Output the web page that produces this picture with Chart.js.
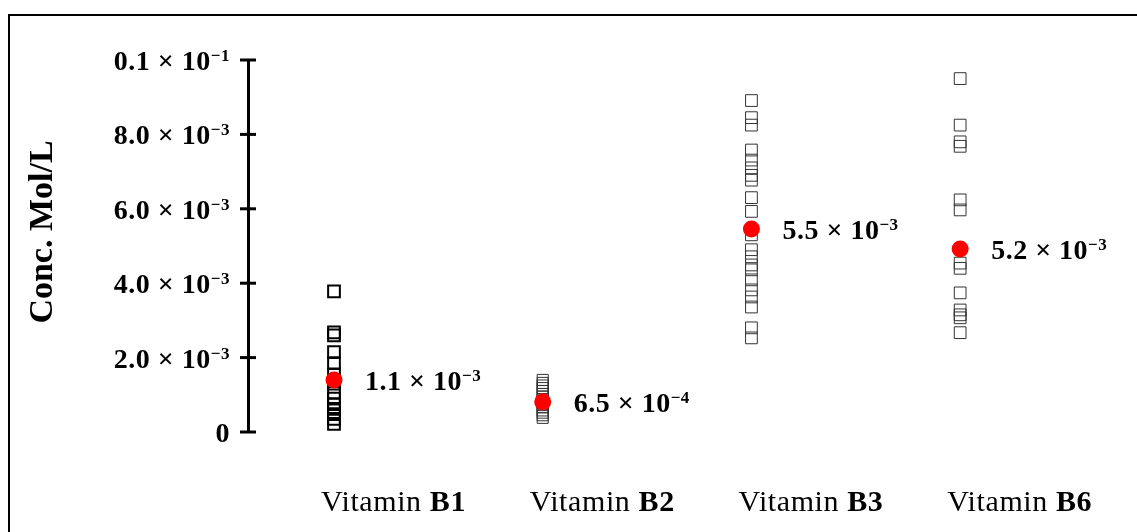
<!DOCTYPE html>
<html>
<head>
<meta charset="utf-8">
<script src="https://cdn.jsdelivr.net/npm/chart.js@4.4.0/dist/chart.umd.min.js"></script>
<style>
  html, body { margin: 0; padding: 0; background: #fff; }
  #wrap { position: relative; width: 1137px; height: 532px; overflow: hidden; }
  #frame { position: absolute; left: 8px; top: 14px; width: 1200px; height: 600px;
           border-left: 2px solid #000; border-top: 2px solid #000; }
  canvas { position: absolute; left: 0; top: 0; }
</style>
</head>
<body>
<div id="wrap">
  <div id="frame"></div>
  <canvas id="chart" width="1137" height="532"></canvas>
</div>
<script>
// Vitamin concentrations (mol/L)
const categories = ['B1', 'B2', 'B3', 'B6'];
const b1Values = [3.78e-3, 2.68e-3, 2.60e-3, 2.15e-3, 1.85e-3, 1.55e-3, 1.30e-3, 1.05e-3,
                  0.90e-3, 0.75e-3, 0.62e-3, 0.48e-3, 0.35e-3, 0.22e-3];
const b2Values = [1.40e-3, 1.32e-3, 1.25e-3, 1.18e-3, 1.10e-3, 1.02e-3, 0.95e-3, 0.88e-3,
                  0.80e-3, 0.73e-3, 0.66e-3, 0.58e-3, 0.52e-3, 0.45e-3, 0.38e-3];
const b3Values = [8.91e-3, 8.45e-3, 8.25e-3, 7.58e-3, 7.31e-3, 7.10e-3, 6.90e-3, 6.77e-3,
                  6.30e-3, 5.93e-3, 5.30e-3, 4.90e-3, 4.71e-3, 4.49e-3, 4.36e-3, 4.09e-3,
                  3.82e-3, 3.63e-3, 3.36e-3, 2.80e-3, 2.53e-3];
const b6Values = [9.50e-3, 8.25e-3, 7.80e-3, 7.68e-3, 6.24e-3, 5.97e-3, 4.54e-3, 4.40e-3,
                  3.74e-3, 3.28e-3, 3.15e-3, 3.07e-3, 2.67e-3];
const meanValues = [1.40e-3, 0.81e-3, 5.46e-3, 4.92e-3];
const meanMantissa = ['1.1', '6.5', '5.5', '5.2'];
const meanExponent = ['\u22123', '\u22124', '\u22123', '\u22123'];

const yTickValues = [0, 0.002, 0.004, 0.006, 0.008, 0.01];
const yTickMantissa = ['0', '2.0', '4.0', '6.0', '8.0', '0.1'];
const yTickExponent = ['', '\u22123', '\u22123', '\u22123', '\u22123', '\u22121'];

const seriesValues = [b1Values, b2Values, b3Values, b6Values];
const squareColors = ['#000000', '#333333', '#333333', '#333333'];
const squareWidths = [2, 1, 1, 1];
const squareRadius = [8.3, 7.8, 8.3, 8.3];

const FONT = '"Liberation Serif", "Times New Roman", serif';

// draws "m × 10^e" with a real superscript
function drawSci(ctx, mantissa, exp, x, y, align) {
    const main = exp ? mantissa + ' \u00d7 10' : mantissa;
    ctx.letterSpacing = '0.5px';
    ctx.font = 'bold 28px ' + FONT;
    const mainW = ctx.measureText(main).width;
    ctx.font = 'bold 17px ' + FONT;
    const supW = exp ? ctx.measureText(exp).width : 0;
    const start = align === 'right' ? x - mainW - supW : x;
    ctx.textAlign = 'left';
    ctx.textBaseline = 'alphabetic';
    ctx.fillStyle = '#000';
    ctx.font = 'bold 28px ' + FONT;
    ctx.fillText(main, start, y);
    if (exp) {
        ctx.font = 'bold 17px ' + FONT;
        ctx.fillText(exp, start + mainW, y - 9);
    }
    ctx.letterSpacing = '0px';
}

const annotations = {
    id: 'annotations',
    afterDraw(chart) {
        const ctx = chart.ctx;
        const ys = chart.scales.y;
        const xs = chart.scales.x;
        const area = chart.chartArea;
        ctx.save();

        // ticks crossing the axis
        ctx.strokeStyle = '#000';
        ctx.lineWidth = 3;
        yTickValues.forEach((v, i) => {
            const py = ys.getPixelForValue(v);
            ctx.beginPath();
            ctx.moveTo(area.left - 8, py);
            ctx.lineTo(area.left + 8, py);
            ctx.stroke();
            drawSci(ctx, yTickMantissa[i], yTickExponent[i], area.left - 18, py + 10, 'right');
        });

        // axis title
        ctx.save();
        ctx.translate(area.left - 196, (area.top + area.bottom) / 2 - 14);
        ctx.rotate(-Math.PI / 2);
        ctx.font = 'bold 34px ' + FONT;
        ctx.textAlign = 'center';
        ctx.textBaseline = 'alphabetic';
        ctx.fillStyle = '#000';
        ctx.fillText('Conc. Mol/L', 0, 0);
        ctx.restore();

        // mean labels next to the red dots
        meanValues.forEach((v, i) => {
            const px = xs.getPixelForValue(i + 1);
            const py = ys.getPixelForValue(v);
            drawSci(ctx, meanMantissa[i], meanExponent[i], px + 31, py + 10, 'left');
        });

        // category labels: "Vitamin " regular + bold code
        ctx.letterSpacing = '0.6px';
        categories.forEach((c, i) => {
            const px = xs.getPixelForValue(i + 1) - 13;
            const py = area.bottom + 79;
            ctx.textAlign = 'left';
            ctx.textBaseline = 'alphabetic';
            ctx.font = '30px ' + FONT;
            ctx.fillText('Vitamin ', px, py);
            const w = ctx.measureText('Vitamin ').width;
            ctx.font = 'bold 30px ' + FONT;
            ctx.fillText(c, px + w, py);
        });
        ctx.letterSpacing = '0px';
        ctx.restore();
    }
};

const datasets = seriesValues.map((vals, i) => ({
    label: 'Vitamin ' + categories[i],
    data: vals.map(v => ({ x: i + 1, y: v })),
    pointStyle: 'rect',
    pointRadius: squareRadius[i],
    pointBorderColor: squareColors[i],
    pointBorderWidth: squareWidths[i],
    pointBackgroundColor: 'rgba(0,0,0,0)',
    showLine: false,
    order: 2
}));

datasets.push({
    label: 'Mean',
    data: meanValues.map((v, i) => ({ x: i + 1, y: v })),
    pointStyle: 'circle',
    pointRadius: 8.5,
    pointBackgroundColor: '#ff0000',
    pointBorderWidth: 0,
    showLine: false,
    order: 1
});

new Chart(document.getElementById('chart'), {
    type: 'scatter',
    data: { datasets },
    plugins: [annotations],
    options: {
        responsive: false,
        animation: false,
        layout: { padding: { top: 60, bottom: 100, left: 0, right: 37 } },
        plugins: { legend: { display: false }, tooltip: { enabled: false } },
        scales: {
            x: {
                type: 'linear',
                display: false,
                min: 0.588,
                max: 4.67
            },
            y: {
                min: 0,
                max: 0.01,
                afterFit(scale) { scale.width = 248; },
                afterBuildTicks(scale) { scale.ticks = yTickValues.map(v => ({ value: v })); },
                grid: { display: false },
                border: { display: true, color: '#000', width: 3 },
                ticks: { display: false }
            }
        }
    }
});
</script>
</body>
</html>
